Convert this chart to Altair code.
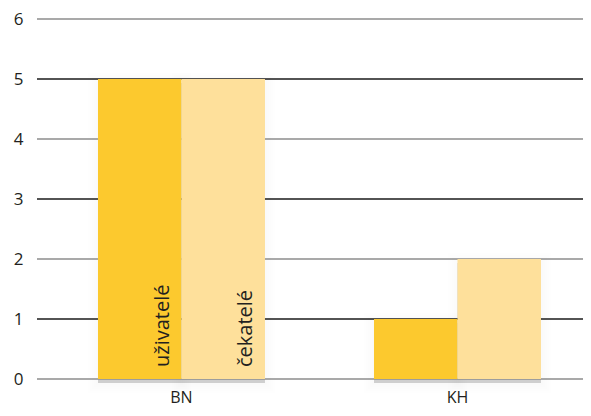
import altair as alt
import pandas as pd

regions = ["BN", "KH"]
series = ["uživatelé", "čekatelé"]
uzivatele = [5, 1]
cekatele = [5, 2]
y_ticks = [0, 1, 2, 3, 4, 5, 6]
grid_colors = ["#8c8c8c", "#1a1a1a", "#8c8c8c", "#1a1a1a", "#8c8c8c", "#1a1a1a", "#8c8c8c"]
bar_colors = ["#FCC92E", "#FEE09B"]

rows = []
for i, r in enumerate(regions):
    rows.append({"region": r, "series": series[0], "value": uzivatele[i]})
    rows.append({"region": r, "series": series[1], "value": cekatele[i]})
df = pd.DataFrame(rows)
grid_df = pd.DataFrame({"v": y_ticks, "c": grid_colors})

W, H = 546, 360
FONT = "Open Sans"

xenc = alt.X("region:N", sort=regions, title=None,
             scale=alt.Scale(paddingInner=0.395, paddingOuter=0.1866, align=0.592),
             axis=alt.Axis(labelAngle=0, domain=False, ticks=False, labelPadding=10,
                           labelFontSize=16, labelColor="#231f20", labelFont=FONT))
xoff = alt.XOffset("series:N", sort=series, scale=alt.Scale(paddingInner=0, paddingOuter=0))
yscale = alt.Scale(domain=[0, 6], nice=False)

base = alt.Chart(df)

shadows = [
    base.mark_bar(color="#000", opacity=0.035, stroke="#000", strokeOpacity=0.035,
                  strokeWidth=sw, xOffset=5, yOffset=4).encode(
        x=xenc, xOffset=xoff, y=alt.Y("value:Q", scale=yscale))
    for sw in (3, 7, 11, 15, 19)
]

grid = alt.Chart(grid_df).mark_rule(strokeWidth=1.3).encode(
    y=alt.Y("v:Q", scale=yscale, title=None,
            axis=alt.Axis(values=y_ticks, domain=False, ticks=False, grid=False,
                          labelPadding=14, labelFontSize=17, labelColor="#231f20",
                          labelFont=FONT, format="d")),
    x=alt.value(0), x2=alt.value(W),
    color=alt.Color("c:N", scale=None),
)

bars = base.mark_bar().encode(
    x=xenc, xOffset=xoff,
    y=alt.Y("value:Q", scale=yscale),
    color=alt.Color("series:N", sort=series,
                    scale=alt.Scale(domain=series, range=bar_colors), legend=None),
)

labels = base.transform_filter(alt.datum.region == "BN").mark_text(
    angle=270, align="left", baseline="alphabetic", dx=12, dy=29,
    fontSize=20, font=FONT, color="#231f20").encode(
    x=xenc, xOffset=xoff, y=alt.datum(0), text="series:N")

chart = alt.layer(*shadows, grid, bars, labels).properties(
    width=W, height=H,
    autosize=alt.AutoSizeParams(type="none"),
    padding={"left": 29, "top": 11, "right": 0, "bottom": 29},
).configure_view(stroke=None).configure_axis(grid=False)

chart.save("out.html", embed_options={"renderer": "svg", "actions": False})
